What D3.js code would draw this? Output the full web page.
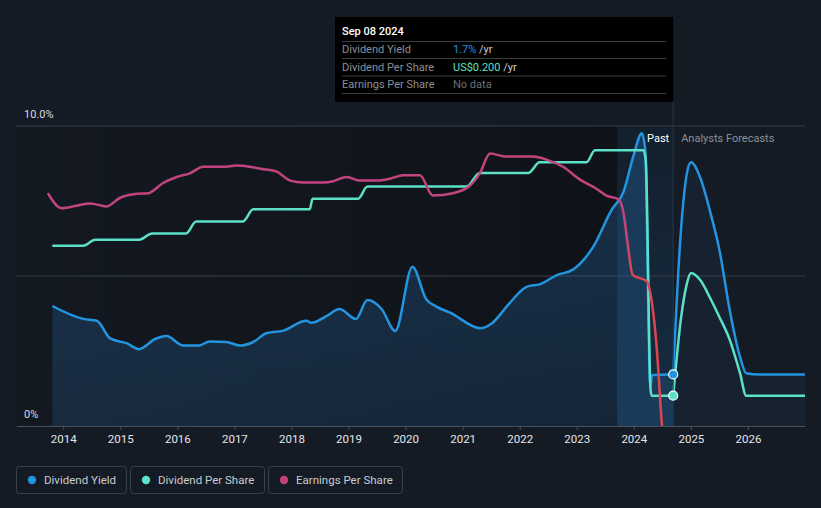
<!DOCTYPE html>
<html><head><meta charset="utf-8">
<script src="https://cdn.jsdelivr.net/npm/d3@7"></script>
<style>
body{margin:0;background:#151b24;}
svg{display:block;font-family:Roboto,"Noto Sans",sans-serif;}
</style>
</head><body>
<svg id="chart" width="821" height="508"></svg>
<script>
// ---- data (decimal years) ----
const axisYears = [2014,2015,2016,2017,2018,2019,2020,2021,2022,2023,2024,2025,2026];
const yAxisLabels = ["0%","10.0%"];

const yieldYears = [2013.81,2014.35,2014.59,2014.82,2015.11,2015.33,2015.61,2015.81,2016.10,2016.37,2016.57,2016.86,2017.10,2017.33,2017.56,2017.86,2018.26,2018.35,2018.62,2018.84,2019.13,2019.33,2019.58,2019.82,2020.12,2020.36,2020.54,2020.78,2021.31,2021.51,2021.82,2022.12,2022.36,2022.65,2022.94,2023.29,2023.61,2023.82,2023.99,2024.14,2024.20,2024.29,2024.32,2024.69];
const yieldValues = [4.0,3.57,3.51,2.92,2.76,2.56,2.9,3.0,2.68,2.68,2.82,2.8,2.68,2.8,3.09,3.18,3.51,3.44,3.67,3.9,3.57,4.2,3.9,3.17,5.31,4.23,3.98,3.78,3.26,3.42,4.09,4.64,4.73,5.03,5.22,5.98,7.2,7.81,8.98,9.76,9.2,1.3,1.7,1.72];
const yieldFcYears = [2024.69,2024.81,2024.93,2025.00,2025.17,2025.33,2025.50,2025.68,2025.86,2025.97,2026.20,2027.00];
const yieldFcValues = [1.72,6.09,8.42,8.79,8.25,7.2,5.87,3.87,2.31,1.76,1.72,1.72];

const dpsYears = [2013.81,2014.35,2014.56,2015.33,2015.56,2016.15,2016.33,2017.15,2017.33,2018.32,2018.37,2019.17,2019.33,2021.07,2021.30,2022.15,2022.35,2023.17,2023.32,2024.17,2024.21,2024.29,2024.31,2024.69];
const dpsValues = [1.19,1.19,1.23,1.23,1.27,1.27,1.35,1.35,1.43,1.43,1.50,1.50,1.58,1.58,1.67,1.67,1.74,1.74,1.82,1.82,1.75,0.26,0.20,0.20];
const dpsFcYears = [2024.69,2024.83,2024.93,2025.00,2025.17,2025.33,2025.50,2025.68,2025.86,2025.97,2026.20,2027.00];
const dpsFcValues = [0.20,0.72,0.94,1.01,0.96,0.85,0.72,0.57,0.35,0.20,0.20,0.20];

const epsYears = [2013.73,2013.97,2014.23,2014.47,2014.76,2014.99,2015.29,2015.49,2015.75,2015.99,2016.22,2016.45,2016.80,2017.04,2017.27,2017.51,2017.74,2017.98,2018.21,2018.56,2018.73,2018.97,2019.20,2019.49,2019.72,2019.96,2020.25,2020.48,2020.83,2021.12,2021.30,2021.48,2021.77,2022.23,2022.47,2022.76,2023.05,2023.35,2023.52,2023.73,2023.82,2023.89,2023.98,2024.23,2024.31,2024.40,2024.49,2024.53];
const epsValues = [3.88,3.63,3.67,3.71,3.66,3.80,3.87,3.88,4.05,4.15,4.21,4.32,4.32,4.34,4.32,4.28,4.24,4.09,4.06,4.06,4.08,4.15,4.09,4.09,4.12,4.18,4.18,3.84,3.88,4.00,4.21,4.54,4.49,4.49,4.44,4.32,4.11,3.95,3.84,3.78,3.55,3.05,2.52,2.41,2.10,1.32,0.05,-0.4];

const hoverYear = 2024.69;
const bandStartYear = 2023.71;
const tooltipDate = "Sep 08 2024";
const tooltipRows = [
  {label:"Dividend Yield", value:"1.7%", unit:" /yr", color:"#2394df"},
  {label:"Dividend Per Share", value:"US$0.200", unit:" /yr", color:"#5ce0c8"},
  {label:"Earnings Per Share", value:"No data", unit:"", color:"#6b7079"}
];
const legendItems = [
  {name:"Dividend Yield", color:"#2394df"},
  {name:"Dividend Per Share", color:"#5ee3cf"},
  {name:"Earnings Per Share", color:"#c0407f"}
];

// ---- scales ----
const L = 17, R = 805, T = 126, B = 426;
const x = d3.scaleLinear().domain([2013.19, 2027.0]).range([L, R]);
const yY = d3.scaleLinear().domain([0, 10]).range([B, T]);
const yD = d3.scaleLinear().domain([0, 1.98]).range([B, T]);
const yE = d3.scaleLinear().domain([0, 5]).range([B, T]);

const svg = d3.select("#chart");
const defs = svg.append("defs");

svg.append("rect").attr("width",821).attr("height",508).attr("fill","#151b24");

// past darkening gradient
const pg = defs.append("linearGradient").attr("id","pastGrad").attr("x1","0").attr("x2","1").attr("y1","0").attr("y2","0");
pg.append("stop").attr("offset","0").attr("stop-color","#0b0d11").attr("stop-opacity",0.15);
pg.append("stop").attr("offset","1").attr("stop-color","#0b0d11").attr("stop-opacity",0.6);
svg.append("rect").attr("x",L).attr("y",T).attr("width",x(bandStartYear)-L).attr("height",B-T).attr("fill","url(#pastGrad)");

// last-year band
const bg = defs.append("linearGradient").attr("id","bandGrad").attr("x1","0").attr("x2","0").attr("y1","0").attr("y2","1");
bg.append("stop").attr("offset","0").attr("stop-color","#12202e");
bg.append("stop").attr("offset","1").attr("stop-color","#173049");
svg.append("rect").attr("x",x(bandStartYear)).attr("y",T).attr("width",x(hoverYear)-x(bandStartYear)).attr("height",B-T).attr("fill","url(#bandGrad)").attr("opacity",0.85);

// gridlines
[5,10].forEach(v=>{
  svg.append("line").attr("x1",L-1).attr("x2",R).attr("y1",yY(v)).attr("y2",yY(v))
    .attr("stroke","#383e48").attr("stroke-width",1);
});

// clip
defs.append("clipPath").attr("id","plotClip").append("rect").attr("x",L).attr("y",T-10).attr("width",R-L).attr("height",B-T+10);

const pts = (xs, vs) => xs.map((d,i)=>({x:d, v:vs[i]}));
const yieldPast = pts(yieldYears, yieldValues);
const yieldFc = pts(yieldFcYears, yieldFcValues);
const dpsPast = pts(dpsYears, dpsValues);
const dpsFc = pts(dpsFcYears, dpsFcValues);
const eps = pts(epsYears, epsValues);

const g = svg.append("g").attr("clip-path","url(#plotClip)");

// area fills
const ag = defs.append("linearGradient").attr("id","areaGrad").attr("x1","0").attr("x2","0").attr("y1","0").attr("y2","1");
ag.append("stop").attr("offset","0").attr("stop-color","#2a72b5").attr("stop-opacity",0.32);
ag.append("stop").attr("offset","1").attr("stop-color","#2a72b5").attr("stop-opacity",0.2);
const area = (ys) => d3.area().x(d=>x(d.x)).y0(B).y1(d=>ys(d.v)).curve(d3.curveMonotoneX);
g.append("path").datum(yieldPast).attr("d",area(yY)).attr("fill","url(#areaGrad)");
g.append("path").datum(yieldFc).attr("d",area(yY)).attr("fill","#2a72b5").attr("opacity",0.09);

const line = (ys) => d3.line().x(d=>x(d.x)).y(d=>ys(d.v)).curve(d3.curveMonotoneX);

// blue
g.append("path").datum(yieldPast).attr("d",line(yY)).attr("fill","none").attr("stroke","#2394df").attr("stroke-width",2.5);
g.append("path").datum(yieldFc).attr("d",line(yY)).attr("fill","none").attr("stroke","#2394df").attr("stroke-width",2.5);
// teal
g.append("path").datum(dpsPast).attr("d",line(yD)).attr("fill","none").attr("stroke","#5ce0c8").attr("stroke-width",2.5);
g.append("path").datum(dpsFc).attr("d",line(yD)).attr("fill","none").attr("stroke","#5ce0c8").attr("stroke-width",2.5);
// eps (pink -> red)
const eg = defs.append("linearGradient").attr("id","epsGrad").attr("gradientUnits","userSpaceOnUse")
  .attr("x1",x(2023.85)).attr("x2",x(2023.95)).attr("y1",0).attr("y2",0);
eg.append("stop").attr("offset","0").attr("stop-color","#c2447f");
eg.append("stop").attr("offset","1").attr("stop-color","#dc474f");
g.append("path").datum(eps).attr("d",line(yE)).attr("fill","none").attr("stroke","url(#epsGrad)").attr("stroke-width",2.5);

// hover line
svg.append("line").attr("x1",x(hoverYear)).attr("x2",x(hoverYear)).attr("y1",100).attr("y2",B)
  .attr("stroke","#1f3a50").attr("stroke-width",1);

// markers
svg.append("circle").attr("cx",x(hoverYear)).attr("cy",yY(yieldValues[yieldValues.length-1])).attr("r",4.5)
  .attr("fill","#2394df").attr("stroke","#ffffff").attr("stroke-width",1.2);
svg.append("circle").attr("cx",x(hoverYear)).attr("cy",yD(dpsValues[dpsValues.length-1])).attr("r",4.5)
  .attr("fill","#5ce0c8").attr("stroke","#ffffff").attr("stroke-width",1.2);

// Past / Analysts Forecasts
svg.append("text").attr("x",x(hoverYear)-4).attr("y",142).attr("text-anchor","end")
  .attr("fill","#ffffff").attr("font-size",11).text("Past");
svg.append("text").attr("x",x(hoverYear)+8).attr("y",142)
  .attr("fill","#8a9099").attr("font-size",11).text("Analysts Forecasts");

// x axis
const xAxis = d3.axisBottom(x).tickValues(axisYears).tickFormat(d3.format("d")).tickSize(4).tickPadding(5);
const ax = svg.append("g").attr("transform",`translate(0,${B})`).call(xAxis);
ax.select(".domain").attr("stroke","#4a505a").attr("d",`M${L},0.5H${R}`);
ax.selectAll(".tick line").attr("stroke","#4a505a");
ax.selectAll(".tick text").attr("fill","#e4e6ea").attr("font-size",11.5).attr("font-family","Roboto,sans-serif");

// y labels
svg.append("text").attr("x",24).attr("y",117.5).attr("fill","#d8dbe0").attr("font-size",11).text(yAxisLabels[1]);
svg.append("text").attr("x",24).attr("y",418).attr("fill","#d8dbe0").attr("font-size",11).text(yAxisLabels[0]);

// tooltip
const tx = 335, ty = 17, tw = x(hoverYear)-335, th = 85;
svg.append("rect").attr("x",tx).attr("y",ty).attr("width",tw).attr("height",th).attr("fill","#000000");
svg.append("text").attr("x",342).attr("y",35).attr("fill","#ffffff").attr("font-size",11).attr("font-weight",500).text(tooltipDate);
[41.5,58.5,76,93.5].forEach(yy=>{
  svg.append("line").attr("x1",342).attr("x2",666).attr("y1",yy).attr("y2",yy).attr("stroke","#3a3d42").attr("stroke-width",1);
});
tooltipRows.forEach((r,i)=>{
  const yy = 53 + i*17.5;
  svg.append("text").attr("x",342).attr("y",yy).attr("fill","#8a8f97").attr("font-size",11).text(r.label);
  const t = svg.append("text").attr("x",453).attr("y",yy).attr("font-size",11);
  t.append("tspan").attr("fill",r.color).text(r.value);
  if (r.unit) t.append("tspan").attr("fill","#c9ccd1").text(r.unit);
});

// legend
let lx = 16;
const lwidths = [110, 134, 134];
legendItems.forEach((it,i)=>{
  const w = lwidths[i];
  svg.append("rect").attr("x",lx+0.5).attr("y",466.5).attr("width",w).attr("height",27).attr("rx",3)
    .attr("fill","none").attr("stroke","#3a3f48");
  svg.append("circle").attr("cx",lx+16).attr("cy",480).attr("r",4.2).attr("fill",it.color);
  svg.append("text").attr("x",lx+28).attr("y",484).attr("fill","#c8ccd2").attr("font-size",11.5).text(it.name);
  lx += w + 4;
});
</script>
</body></html>
